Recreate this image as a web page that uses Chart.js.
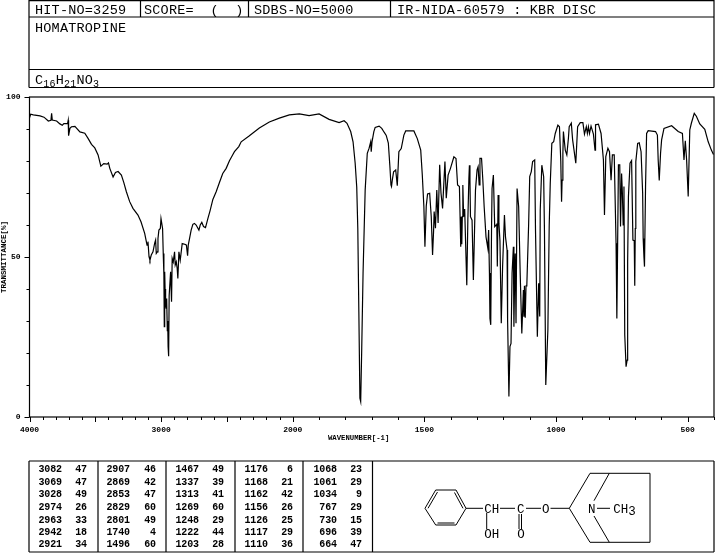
<!DOCTYPE html>
<html><head><meta charset="utf-8">
<style>
html,body{margin:0;padding:0;background:#fff;width:715px;height:553px;overflow:hidden}
#wrap{position:relative;width:715px;height:446px}
#over{position:absolute;left:0;top:0}
text{font-family:"Liberation Mono",monospace;fill:#000;white-space:pre}
.h{font-size:13.5px;letter-spacing:.2px}
.t{font-size:10px;font-weight:bold;letter-spacing:-.1px}
.m{font-size:12.5px}
</style>
<script src="https://cdn.jsdelivr.net/npm/chart.js@4"></script>
</head><body>
<div id="wrap"><canvas id="c" width="715" height="443" style="display:block;width:715px;height:443px"></canvas></div>
<svg id="over" width="715" height="553" xmlns="http://www.w3.org/2000/svg"></svg>
<script>
const wavenumbers=[4000,3991,3971,3920,3890,3857,3837,3832,3827,3794,3769,3751,3739,3711,3706,3703,3693,3681,3655,3617,3580,3554,3529,3504,3479,3458,3436,3410,3400,3390,3365,3347,3327,3302,3284,3264,3239,3214,3176,3153,3125,3107,3100,3092,3085,3075,3062,3049,3042,3037,3029,3024,3017,3006,3001,2989,2984,2979,2976,2973,2970,2966,2962,2958,2953,2950,2947,2944,2942,2939,2935,2928,2921,2916,2908,2898,2893,2885,2878,2873,2865,2855,2840,2815,2808,2799,2794,2784,2772,2759,2747,2734,2713,2703,2691,2678,2663,2645,2628,2607,2582,2557,2532,2506,2481,2457,2443,2410,2392,2332,2254,2178,2102,2026,1975,1938,1900,1862,
1824,1805,1794,1780,1771,1763,1757,1753,1749,1745,1742,1738,1733,1725,1717,1710,1704,1702,1699,1692,1687,1672,1662,1653,1645,1637,1631,1627,1625,1622,1617,1609,1603,1597,1588,1578,1571,1540,1527,1514,1508,1502,1498,1493,1488,1480,1474,1469,1465,1463,1458,1453,1448,1442,1437,1431,1422,1417,1410,1401,1388,1380,1374,1367,1362,1360,1358,1356,1354,1351,1347,1339,1335,1331,1329,1327,1325,1319,1314,1306,1300,1296,1292,1289,1283,1278,1273,1266,1259,1256,1253,1251,1248,1245,1243,1238,1233,1228,1225,1223,1220,1217,1213,1208,1203,1196,1192,1186,1184,1179,1175,1171,1167,1162,1160,1157,1155,1152,1148,1142,1136,1130,1124,1122,1120,1117,1114,1111,1104,1100,1094,1089,1081,1078,1071,1066,1062,1060,1054,1047,1044,1039,1031,1026,1022,1016,1009,1003,993,987,982,979,977,974,972,965,959,953,950,942,937,930,925,918,908,898,892,885,881,877,873,867,858,852,850,839,829,820,816,811,803,797,791,786,779,772,769,766,763,758,755,751,748,745,742,739,734,730,728,725,719,713,708,703,701,699,697,690,684,677,671,669,666,664,660,656,650,622,615,612,608,603,599,590,561,536,520,514,509,504,498,492,486,475,467,454,435,422,410,402];
const transmittance=[93.5,94.6,94.4,94.1,93.7,92.5,92.7,94.9,92.8,92.5,91.6,91.2,91.7,91.7,92.7,87.9,90.2,90.7,90.8,89.1,88.7,87,85.2,84.1,81.9,78.4,79.2,79,79.4,77.7,75,76.4,76.7,75.6,73.3,70.4,67.3,65.2,63.1,61,57.4,53.7,54.8,50.1,49,50.6,51.6,54.3,55.3,51.1,51.6,55.8,58.4,58.9,62,58.9,51.1,44.3,28.2,45.4,40,35,34,37,27,30,22,24,19,38,38,45.4,36,49.6,48.5,51.6,47.5,48.5,46.4,43.3,51.6,49,54.2,53.9,53.7,50.4,53.7,55.8,58.4,60.2,60.5,60,58.4,60,60.8,59.5,59.2,62,64.5,68,70.4,73.3,76.1,77.7,80.1,81.9,82.9,84.5,86,87.8,90.3,92.2,93.4,94.4,94.7,94.2,94.7,93,
92,92.6,91.8,89.2,86,79.3,71.8,59,32.9,5.9,4.8,21.6,45,70.9,82.4,84,86,82.9,86,89.2,90.5,90.9,90.2,89,88,85.6,78.2,72.5,72,74,76.6,77.2,72.3,82.9,83.9,88.1,89.4,89.4,87,83.4,75.6,65.7,53.2,65.9,69.7,69.9,62.6,50.6,58.4,64.2,59,70.9,60.6,78.8,70,65.2,79.8,68.4,75.6,77.7,81.3,80.8,72.5,72,53.2,62.6,54,62.6,72.5,62.6,65,41.2,61.5,74.6,78.7,74,62.6,61.5,42.8,70.9,77.2,78.2,72.5,80.8,80.8,74,65.7,56.3,52.7,58.4,45,30.8,28.8,59,71.4,75.6,59.5,60,60.5,47,69.4,60.5,55,29.3,47,63.1,56.3,52.2,30.3,6.4,22,23,44.9,53.2,28.2,45,51.1,29.3,71.4,65.7,44.4,26.1,39.7,31.3,41,31,41,41.2,60.5,75.1,76.7,79.8,80.3,58.4,25.1,41.8,31.4,64.7,78.7,75.1,58.4,10,27.2,59.5,73,85.5,86,88.6,91.2,90.7,80,67.3,74,82.4,89.2,83.4,81.9,87.1,90.7,91.8,86.6,82.4,79.3,90.7,92,92,88.4,90.7,88.6,90.7,88.6,90.9,88.4,83.4,91.3,91.5,88.6,80.3,63.1,81.4,84,82.9,74,81.9,81.9,54.3,30.8,54.3,78.8,78.8,59.5,76.1,70,60,72,25.6,15.7,17.8,48.5,68.9,79.3,80.1,55.3,55.1,41,58.9,79.8,85.5,85.7,82.9,69.9,55.8,49.9,47,72,88.6,89.5,89.2,88.1,80.3,73.9,82.4,86.6,90.2,91,89.2,88.6,80.3,86.3,80.3,68.9,89.7,91.8,94.9,94,91.6,89.9,86,83.4,82];
const xLabelled=[4000,3000,2000,1500,1000,500];
const xLong=[4000,3500,3000,2500,2000,1500,1000,500];
const yLabelled=[100,50,0];
const headerCells=["HIT-NO=3259","SCORE=  (  )","SDBS-NO=5000","IR-NIDA-60579 : KBR DISC"];
const compoundName="HOMATROPINE";
const peakWave=[[3082,3069,3028,2974,2963,2942,2921],[2907,2869,2853,2829,2801,1740,1496],[1467,1337,1313,1269,1248,1222,1203],[1176,1168,1162,1156,1126,1117,1110],[1068,1061,1034,767,730,696,664]];
const peakTrans=[[47,47,49,26,33,18,34],[46,42,47,60,49,4,60],[49,39,41,60,29,44,28],[6,21,42,26,25,29,36],[23,29,9,29,15,39,47]];

/* IR charts change wavenumber scale at 2000 cm-1 */
class IRScale extends Chart.LinearScale{
  static id='ir';
  static defaults=Chart.LinearScale.defaults;
  buildTicks(){
    const out=[];
    for(let v=4000;v>=400;v-=100)out.push({value:v});
    return out;
  }
  getPixelForValue(v){
    const u=v>2000?(4000-v)/1000:2+(2000-v)/500;
    return this.left+u/5.2*this.width;
  }
  getValueForPixel(p){
    const u=(p-this.left)/this.width*5.2;
    return u<2?4000-u*1000:2000-(u-2)*500;
  }
}
Chart.register(IRScale);

const framePlugin={id:'frame',afterDraw(ch){
  const c=ch.ctx,a=ch.chartArea,xs=ch.scales.x,ys=ch.scales.y;
  c.save();c.strokeStyle='#000';c.lineWidth=1.2;
  c.strokeRect(a.left,a.top,a.right-a.left,a.bottom-a.top);
  c.lineWidth=1;c.beginPath();
  xs.ticks.forEach(t=>{const p=Math.round(xs.getPixelForValue(t.value))+.5,l=xLong.includes(t.value)?5:3;c.moveTo(p,a.bottom);c.lineTo(p,a.bottom+l);});
  ys.ticks.forEach(t=>{const p=Math.round(ys.getPixelForValue(t.value))+.5,l=yLabelled.includes(t.value)?5:3;c.moveTo(a.left,p);c.lineTo(a.left-l,p);});
  c.stroke();c.restore();
}};
const noPad=s=>{s.paddingLeft=0;s.paddingRight=0;s.paddingTop=0;s.paddingBottom=0;};
const tickFont={family:'"Liberation Mono",monospace',size:8,weight:'bold'};
new Chart(document.getElementById('c'),{
  type:'line',
  data:{datasets:[{data:wavenumbers.map((w,i)=>({x:w,y:transmittance[i]})),borderColor:'#000',borderWidth:1.2,pointRadius:0,tension:0,fill:false}]},
  options:{
    responsive:false,animation:false,events:[],
    layout:{padding:{left:0,right:1,top:97,bottom:0}},
    plugins:{legend:{display:false},tooltip:{enabled:false},title:{display:false}},
    scales:{
      x:{type:'ir',min:400,max:4000,position:'bottom',
        grid:{display:false,drawTicks:false},border:{display:false},
        afterFit(s){s.height=26;noPad(s);},
        ticks:{autoSkip:false,maxRotation:0,minRotation:0,padding:8,color:'#000',font:tickFont,
          callback:v=>xLabelled.includes(v)?String(v):''},
        title:{display:true,text:'WAVENUMBER[-1]      ',color:'#000',font:{...tickFont,size:7.3},padding:{top:0,bottom:0}}},
      y:{type:'linear',min:0,max:100,position:'left',
        grid:{display:false,drawTicks:false},border:{display:false},
        afterFit(s){s.width=29.5;noPad(s);},
        ticks:{stepSize:10,autoSkip:false,padding:9,color:'#000',font:tickFont,
          callback:v=>yLabelled.includes(v)?String(v):''},
        title:{display:true,text:'TRANSMITTANCE[%]',color:'#000',font:{...tickFont,size:7.5},padding:{top:0,bottom:0}}}
    }
  },
  plugins:[framePlugin]
});

const NS='http://www.w3.org/2000/svg',svg=document.getElementById('over');
function line(x1,y1,x2,y2,w){const e=document.createElementNS(NS,'line');
  e.setAttribute('x1',x1);e.setAttribute('y1',y1);e.setAttribute('x2',x2);e.setAttribute('y2',y2);
  e.setAttribute('stroke','#000');e.setAttribute('stroke-width',w||1.2);svg.appendChild(e);}
function text(s,x,y,cls,anchor){const e=document.createElementNS(NS,'text');
  e.setAttribute('x',x);e.setAttribute('y',y);e.setAttribute('class',cls);
  if(anchor)e.setAttribute('text-anchor',anchor);e.textContent=s;svg.appendChild(e);return e;}
function sub(parent,s,dy,size){const t=document.createElementNS(NS,'tspan');
  t.setAttribute('dy',dy);if(size)t.setAttribute('font-size',size);t.textContent=s;parent.appendChild(t);}

/* header block */
[[29,.6,714,.6],[29,17,714,17],[29,69.5,714,69.5],[29,87.5,714,87.5],[29,0,29,87.5],[714,0,714,87.5],[140.5,0,140.5,17],[248.5,0,248.5,17],[390.5,0,390.5,17]].forEach(l=>line(...l));
[35,144,254,397].forEach((x,i)=>text(headerCells[i],x,13.5,'h'));
text(compoundName,35,31.5,'h');
const f=text('',35,84,'h');
sub(f,'C',0);sub(f,'16',3,'10px');sub(f,'H',-3);sub(f,'21',3,'10px');sub(f,'NO',-3);sub(f,'3',3,'10px');

/* peak table */
[[29,461,714,461],[29,552,714,552],[29,461,29,552],[98,461,98,552],[166,461,166,552],[235,461,235,552],[303,461,303,552],[372.5,461,372.5,552],[714,461,714,552]].forEach(l=>line(...l));
const waveRight=[62,130,199,268,337],transRight=[87,156,224,293,362],rowY=[472,485,497,510,523,535,547];
peakWave.forEach((col,i)=>col.forEach((w,j)=>{
  text(String(w),waveRight[i],rowY[j],'t','end');
  text(String(peakTrans[i][j]),transRight[i],rowY[j],'t','end');
}));

/* structure */
[[425,508.3,435.7,490],[435.7,490,456,490],[456,490,466,508.3],[466,508.3,456,525],[456,525,435.7,525],[435.7,525,425,508.3],
 [428,508.3,437.5,492],[454.5,492.5,463,508.3],[437.5,523,454.5,523],
 [466,508.3,483,508.3],[500,508.3,515,508.3],[526,508.3,541,508.3],[550.5,508.3,569.3,508.3],
 [486.7,513,486.7,529],[519,514,519,529],[521.5,514,521.5,529],
 [569.3,508.3,590,473.3],[590,473.3,650,473.3],[650,473.3,650,542.3],[650,542.3,590,542.3],[590,542.3,569.3,508.3],
 [609.3,473.3,594,500.7],[609.3,542.3,594,516],[597,508.3,610,508.3]].forEach(l=>line(l[0],l[1],l[2],l[3],1));
text('CH',491.7,512.5,'m','middle');
text('C',520.7,512.5,'m','middle');
text('O',545.7,512.5,'m','middle');
text('N',591.7,512.5,'m','middle');
text('OH',491.7,538,'m','middle');
text('O',521,538,'m','middle');
const me=text('',613.3,512.5,'m');sub(me,'CH',0);sub(me,'3',2);
</script>
</body></html>
